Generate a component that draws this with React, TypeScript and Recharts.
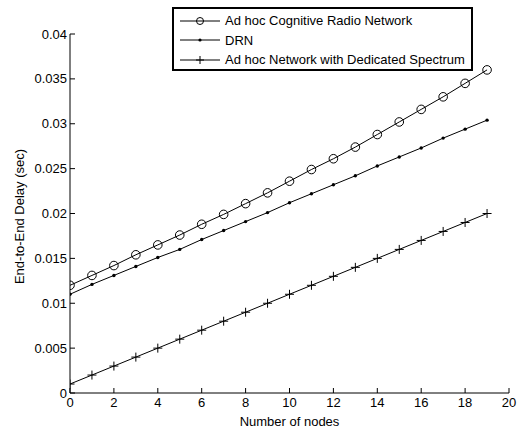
import React from 'react';
import { LineChart, Line, XAxis, YAxis, Legend } from 'recharts';

const nodes = [0, 1, 2, 3, 4, 5, 6, 7, 8, 9, 10, 11, 12, 13, 14, 15, 16, 17, 18, 19];
const adhocCRN = [0.0120, 0.0131, 0.0142, 0.0154, 0.0165, 0.0176, 0.0188, 0.0199, 0.0211, 0.0223, 0.0236, 0.0249, 0.0261, 0.0274, 0.0288, 0.0302, 0.0316, 0.0330, 0.0345, 0.0360];
const drn = [0.0110, 0.0121, 0.0131, 0.0141, 0.0151, 0.0160, 0.0171, 0.0181, 0.0191, 0.0201, 0.0212, 0.0222, 0.0232, 0.0242, 0.0253, 0.0263, 0.0273, 0.0284, 0.0294, 0.0304];
const dedicated = [0.001, 0.002, 0.003, 0.004, 0.005, 0.006, 0.007, 0.008, 0.009, 0.010, 0.011, 0.012, 0.013, 0.014, 0.015, 0.016, 0.017, 0.018, 0.019, 0.020];
const xTicks = [0, 2, 4, 6, 8, 10, 12, 14, 16, 18, 20];
const yTicks = [0, 0.005, 0.01, 0.015, 0.02, 0.025, 0.03, 0.035, 0.04];
const seriesNames = ['Ad hoc Cognitive Radio Network', 'DRN', 'Ad hoc Network with Dedicated Spectrum'];

const data = nodes.map((n, i) => ({ n, crn: adhocCRN[i], drn: drn[i], ded: dedicated[i] }));

const FONT = '"Liberation Sans", Arial, sans-serif';

const PlusDot = (props: any) => {
  const { cx, cy, index } = props;
  if (cx == null || cy == null) return null;
  return (
    <path key={`p${index}`} d={`M${cx - 4.5},${cy}H${cx + 4.5}M${cx},${cy - 4.5}V${cy + 4.5}`} stroke="#000" strokeWidth={1} fill="none" />
  );
};

const LegendContent = () => {
  const rows = [0, 1, 2];
  return (
    <div style={{ border: '2px solid #000', background: '#fff', boxSizing: 'border-box', width: 301, height: 64, fontFamily: FONT, fontSize: 13, paddingTop: 2 }}>
      {rows.map((r) => (
        <div key={r} style={{ display: 'flex', alignItems: 'center', height: 19.5 }}>
          <svg width={51} height={14} style={{ flex: 'none' }}>
            <line x1={6} y1={7} x2={46} y2={7} stroke="#000" strokeWidth={1} />
            {r === 0 && <circle cx={26} cy={7} r={3.5} fill="none" stroke="#000" strokeWidth={1} />}
            {r === 1 && <circle cx={26} cy={7} r={1.6} fill="#000" />}
            {r === 2 && <path d="M22,7H30M26,3V11" stroke="#000" strokeWidth={1} />}
          </svg>
          <span style={{ whiteSpace: 'nowrap', color: '#000' }}>{seriesNames[r]}</span>
        </div>
      ))}
    </div>
  );
};

export default function App() {
  const tickStyle = { fontFamily: FONT, fontSize: 13, fill: '#000' };
  return (
    <div style={{ position: 'absolute', left: 0, top: 0, background: '#fff' }}>
      <LineChart width={527} height={432} data={data} margin={{ top: 34, right: 18, bottom: 0, left: 10 }}>
        <XAxis
          dataKey="n"
          type="number"
          domain={[0, 20]}
          ticks={xTicks}
          allowDataOverflow
          height={39}
          tickSize={-5}
          tickMargin={10}
          tick={tickStyle}
          axisLine={{ stroke: '#000' }}
          tickLine={{ stroke: '#000' }}
          label={{
            content: (p: any) => {
              const vb = p.viewBox;
              return (
                <text x={vb.x + vb.width / 2} y={426} textAnchor="middle" fontFamily={FONT} fontSize={13} fill="#000">
                  Number of nodes
                </text>
              );
            },
          }}
        />
        <XAxis
          xAxisId="top"
          orientation="top"
          type="number"
          domain={[0, 20]}
          ticks={xTicks}
          allowDataOverflow
          height={0}
          tickSize={-5}
          tick={false}
          axisLine={{ stroke: '#000' }}
          tickLine={{ stroke: '#000' }}
        />
        <YAxis
          type="number"
          domain={[0, 0.04]}
          ticks={yTicks}
          allowDataOverflow
          width={60}
          tickSize={-5}
          tickMargin={8}
          tick={tickStyle}
          tickFormatter={(v: number) => String(v)}
          axisLine={{ stroke: '#000' }}
          tickLine={{ stroke: '#000' }}
          label={{
            content: (p: any) => {
              const vb = p.viewBox;
              const cy = vb.y + vb.height / 2 + 3;
              return (
                <text x={19} y={cy} transform={`rotate(-90 19 ${cy})`} textAnchor="middle" dominantBaseline="central" fontFamily={FONT} fontSize={13} fill="#000">
                  End-to-End Delay (sec)
                </text>
              );
            },
          }}
        />
        <YAxis
          yAxisId="right"
          orientation="right"
          type="number"
          domain={[0, 0.04]}
          ticks={yTicks}
          allowDataOverflow
          width={0}
          tickSize={-5}
          tick={false}
          axisLine={{ stroke: '#000' }}
          tickLine={{ stroke: '#000' }}
        />
        <Line dataKey="crn" name={seriesNames[0]} stroke="#000" strokeWidth={1} isAnimationActive={false}
          dot={{ r: 4.3, fill: 'none', stroke: '#000', strokeWidth: 1 }} />
        <Line dataKey="drn" name={seriesNames[1]} stroke="#000" strokeWidth={1} isAnimationActive={false}
          dot={{ r: 1.7, fill: '#000', stroke: '#000', strokeWidth: 0 }} />
        <Line dataKey="ded" name={seriesNames[2]} stroke="#000" strokeWidth={1} isAnimationActive={false}
          dot={<PlusDot />} />
        <Legend
          layout="vertical"
          align="center"
          verticalAlign="middle"
          content={<LegendContent />}
          wrapperStyle={{ position: 'absolute', left: 172, top: 7, width: 301, height: 64 }}
        />
      </LineChart>
    </div>
  );
}
